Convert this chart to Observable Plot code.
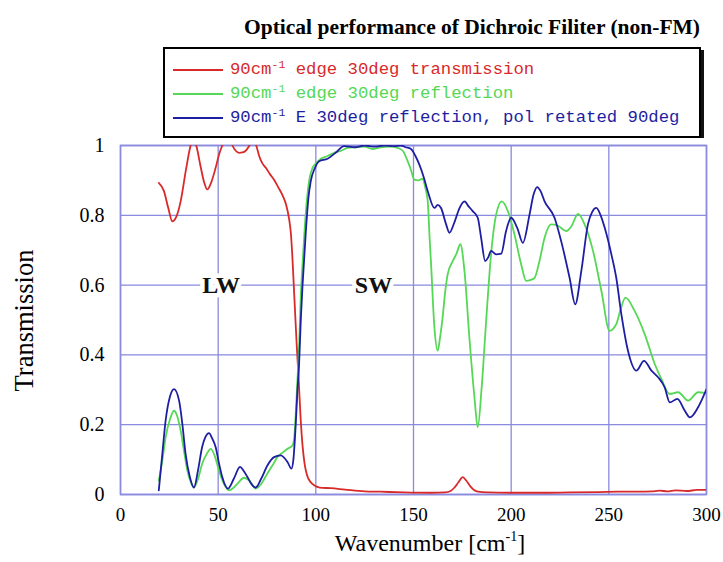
<!DOCTYPE html>
<html>
<head>
<meta charset="utf-8">
<script src="https://cdn.jsdelivr.net/npm/d3@7"></script>
<script src="https://cdn.jsdelivr.net/npm/@observablehq/plot@0.6"></script>
<style>
  html, body { margin: 0; padding: 0; background: #fff; }
  #wrap { position: relative; width: 723px; height: 562px; background: #fff; overflow: hidden; }
  #title { position: absolute; left: 172px; top: 15px; width: 600px; text-align: center;
    font-family: "Liberation Serif", serif; font-weight: bold; font-size: 21.5px; line-height: 24px; white-space: nowrap; }
  #legend { position: absolute; left: 163px; top: 47px; width: 534px; height: 78px; box-sizing: content-box;
    border: 2px solid #000; box-shadow: 3px 3px 0 #111; background: #fff; padding-top: 9px; }
  .row { position: relative; height: 24px; line-height: 24px; font-family: "Liberation Mono", monospace;
    font-size: 17.3px; white-space: nowrap; }
  .row .sw { position: absolute; left: 8px; top: 11px; width: 50px; height: 0; border-top: 2px solid; }
  .row .tx { position: absolute; left: 65px; top: 0; }
  .row sup { font-size: 11.5px; vertical-align: 0; position: relative; top: -6px; }
  #chart { position: absolute; left: 0; top: 138px; }
</style>
</head>
<body>
<div id="wrap">
  <div id="title"></div>
  <div id="legend"></div>
  <div id="chart"></div>
</div>
<script>
// ---------- data ----------
const titleText = "Optical performance of Dichroic Filiter (non-FM)";

const xTicks = [0, 50, 100, 150, 200, 250, 300];
const yTicks = [0, 0.2, 0.4, 0.6, 0.8, 1];
const yTickLabels = ["0", "0.2", "0.4", "0.6", "0.8", "1"];

const seriesPrefix = ["90cm", "90cm", "90cm"];
const seriesSup = ["-1", "-1", "-1"];
const seriesRest = [" edge 30deg transmission", " edge 30deg reflection", " E 30deg reflection, pol retated 90deg"];
const seriesColors = ["#d82a2a", "#55d855", "#1e1ea2"];

const regionLabels = ["LW", "SW"];
const regionX = [51.5, 129.5];
const regionY = [0.6, 0.6];

// red: 90cm-1 edge 30deg transmission
const transWn = [19.6, 22.2, 24.5, 26.5, 28.5, 30.8, 33.5, 35.9, 37.5, 38.8, 41, 42.8, 44.4, 46.5, 48.7, 50.5, 52.1, 54, 56, 57.3, 59, 60.7, 62.5, 64.1, 66, 68, 69.5, 71, 72.5, 74.4, 76.5, 78.6, 80.8, 82.9, 84.8, 86.3, 87.2, 88.0, 88.7, 89.4, 90.2, 91.2, 92.2, 93.2, 94.2, 95.5, 97.4, 99.5, 102, 107.7, 115, 125, 133, 145, 159, 166, 169, 171, 173, 175.2, 177, 179, 181, 183, 188, 200, 215, 230, 245, 255, 265, 272, 276, 280, 284, 290, 295, 300];
const transVal = [0.893, 0.87, 0.82, 0.783, 0.795, 0.84, 0.93, 1.0, 1.02, 1.0, 0.94, 0.895, 0.874, 0.895, 0.936, 0.975, 1.0, 1.02, 1.02, 1.0, 0.985, 0.979, 0.98, 0.985, 1.0, 1.02, 1.0, 0.97, 0.95, 0.936, 0.918, 0.902, 0.88, 0.858, 0.83, 0.79, 0.75, 0.68, 0.6, 0.52, 0.43, 0.33, 0.22, 0.14, 0.09, 0.055, 0.035, 0.025, 0.02, 0.018, 0.014, 0.009, 0.008, 0.006, 0.005, 0.006, 0.01, 0.02, 0.035, 0.05, 0.04, 0.024, 0.013, 0.008, 0.006, 0.005, 0.005, 0.006, 0.007, 0.008, 0.008, 0.009, 0.011, 0.009, 0.012, 0.01, 0.013, 0.013];

// green: 90cm-1 edge 30deg reflection
const reflWn = [19.6, 21.5, 23.1, 25.3, 27.4, 29, 30.8, 32.5, 34.2, 36, 37.6, 39.7, 41.8, 44, 46.2, 48.3, 50.4, 53, 55.6, 58, 60.5, 63.2, 66, 69.2, 72, 75.2, 78, 80.3, 83, 85.5, 88, 88.9, 89.7, 90.6, 91.4, 92.3, 93.2, 94.9, 96.6, 98.3, 100.3, 102.6, 106, 109.4, 113, 116.3, 120, 124.8, 129, 133.3, 138, 141.9, 144.5, 147, 148.7, 150.4, 152.5, 154.7, 156, 157.3, 158.2, 159, 160.7, 162.4, 163.6, 164.9, 166.2, 167.5, 170.1, 172, 174, 176.1, 178.6, 181.2, 182.9, 184.9, 187.2, 189.7, 192.3, 195.2, 198.3, 201.7, 205.1, 207.7, 210, 212, 214.5, 217.1, 220.5, 224, 228.2, 231, 234.2, 237.6, 241.9, 246.2, 250.4, 253.8, 256, 258.5, 263.2, 268.4, 273.5, 276.9, 281.2, 285.5, 290.6, 295.7, 300];
const reflVal = [0.04, 0.1, 0.164, 0.215, 0.24, 0.225, 0.183, 0.125, 0.069, 0.035, 0.02, 0.045, 0.088, 0.115, 0.131, 0.11, 0.069, 0.03, 0.012, 0.02, 0.035, 0.048, 0.04, 0.017, 0.03, 0.06, 0.085, 0.107, 0.12, 0.131, 0.14, 0.16, 0.23, 0.33, 0.42, 0.57, 0.66, 0.81, 0.9, 0.936, 0.95, 0.962, 0.97, 0.979, 0.985, 0.993, 0.995, 0.997, 0.99, 0.995, 0.997, 0.993, 0.985, 0.955, 0.93, 0.902, 0.9, 0.905, 0.88, 0.84, 0.74, 0.66, 0.479, 0.412, 0.45, 0.507, 0.58, 0.631, 0.669, 0.69, 0.717, 0.64, 0.45, 0.279, 0.193, 0.307, 0.498, 0.688, 0.802, 0.84, 0.812, 0.745, 0.66, 0.612, 0.615, 0.621, 0.669, 0.736, 0.774, 0.77, 0.755, 0.77, 0.804, 0.774, 0.698, 0.583, 0.469, 0.488, 0.53, 0.564, 0.526, 0.459, 0.374, 0.331, 0.288, 0.293, 0.269, 0.293, 0.29];

// blue: 90cm-1 E 30deg reflection, pol rotated 90deg
const polWn = [19.6, 21.3, 23.1, 25.3, 27.4, 30, 31.7, 33.3, 35.5, 37.6, 39.7, 41.8, 43.5, 45.3, 47, 48.7, 50.4, 52.1, 55, 58, 61.2, 63, 65, 67, 69.2, 72, 75.2, 78.6, 82, 85.5, 87.5, 88.5, 89.7, 90.6, 91.4, 92.3, 93.2, 94.9, 96.2, 97.4, 99.5, 101.7, 106, 110.3, 114.5, 120, 125, 130, 135, 140, 143.6, 146, 148.7, 151, 153, 155.2, 157.3, 160.7, 162.4, 164.1, 166.7, 168.4, 170.9, 173.5, 176.1, 178.3, 180.3, 182.9, 184.6, 186.7, 188.3, 189.7, 192.3, 194.9, 197.4, 200, 203.1, 206, 209.4, 211.5, 213.3, 215, 217.1, 222.2, 225.6, 229.9, 232.8, 235.9, 239.3, 241.5, 243.6, 245.8, 247.9, 251.3, 253.8, 256.4, 259.8, 264.1, 268, 271.8, 275.2, 278.6, 281.2, 285.1, 288.9, 291.5, 295.7, 300];
const polVal = [0.012, 0.11, 0.212, 0.28, 0.302, 0.269, 0.2, 0.117, 0.05, 0.02, 0.07, 0.136, 0.165, 0.176, 0.16, 0.136, 0.09, 0.05, 0.017, 0.045, 0.079, 0.068, 0.05, 0.03, 0.02, 0.045, 0.083, 0.107, 0.112, 0.093, 0.074, 0.1, 0.2, 0.3, 0.37, 0.5, 0.6, 0.755, 0.85, 0.898, 0.935, 0.955, 0.962, 0.98, 0.998, 0.995, 1.0, 0.997, 1.0, 0.998, 1.0, 0.995, 0.99, 0.97, 0.945, 0.91, 0.869, 0.821, 0.83, 0.821, 0.774, 0.75, 0.779, 0.82, 0.84, 0.825, 0.812, 0.793, 0.736, 0.669, 0.68, 0.698, 0.688, 0.69, 0.755, 0.793, 0.764, 0.721, 0.802, 0.86, 0.881, 0.87, 0.84, 0.793, 0.726, 0.621, 0.545, 0.64, 0.774, 0.81, 0.821, 0.8, 0.764, 0.688, 0.621, 0.517, 0.412, 0.355, 0.383, 0.355, 0.336, 0.307, 0.264, 0.274, 0.24, 0.221, 0.25, 0.302];

const gridColor = "#8a8ade";

// ---------- build ----------
const toRows = (xs, ys) => xs.map((x, i) => ({x, y: ys[i]}));
const transData = toRows(transWn, transVal);
const reflData = toRows(reflWn, reflVal);
const polData = toRows(polWn, polVal);
const regions = regionLabels.map((label, i) => ({label, x: regionX[i], y: regionY[i]}));

d3.select("#title").text(titleText);

const legend = d3.select("#legend");
seriesPrefix.forEach((p, i) => {
  const row = legend.append("div").attr("class", "row").style("color", seriesColors[i]);
  row.append("div").attr("class", "sw").style("border-top-color", seriesColors[i]);
  const tx = row.append("div").attr("class", "tx");
  tx.append("span").text(p);
  tx.append("sup").text(seriesSup[i]);
  tx.append("span").text(seriesRest[i].replace(/ /g, "\u00a0"));
});

const lineOpts = {x: "x", y: "y", strokeWidth: 1.8, curve: "monotone-x", clip: true};

const chart = Plot.plot({
  width: 723,
  height: 424,
  marginTop: 7,
  marginBottom: 68,
  marginLeft: 120,
  marginRight: 17,
  x: {domain: [0, 300]},
  y: {domain: [0, 1]},
  style: {fontFamily: "Liberation Serif", fontSize: "19px", color: "#000", background: "#fff", overflow: "visible"},
  marks: [
    Plot.gridX(xTicks, {stroke: gridColor, strokeOpacity: 1, strokeWidth: 1.3}),
    Plot.gridY(yTicks, {stroke: gridColor, strokeOpacity: 1, strokeWidth: 1.3}),
    Plot.frame({stroke: gridColor, strokeWidth: 1.6}),
    Plot.axisX(xTicks, {tickSize: 0, tickPadding: 13, label: null, fontSize: 19}),
    Plot.axisY(yTicks, {tickSize: 0, tickPadding: 16, label: null, fontSize: 20,
      tickFormat: d => yTickLabels[yTicks.indexOf(d)]}),
    Plot.text(regions, {x: "x", y: "y", text: "label", fontWeight: "bold", fontSize: 24,
      fontFamily: "Liberation Serif", fill: "#111", stroke: "#fff", strokeWidth: 9, paintOrder: "stroke"}),
    Plot.line(transData, {...lineOpts, stroke: seriesColors[0]}),
    Plot.line(reflData, {...lineOpts, stroke: seriesColors[1]}),
    Plot.line(polData, {...lineOpts, stroke: seriesColors[2]})
  ]
});

const svg = d3.select(chart);
// x axis label with superscript
const xl = svg.append("text")
  .attr("x", 430).attr("y", 413).attr("text-anchor", "middle")
  .attr("font-family", "Liberation Serif").attr("font-size", 24).attr("fill", "#000");
xl.append("tspan").text("Wavenumber [cm");
xl.append("tspan").attr("font-size", 14).attr("dy", -10).text("-1");
xl.append("tspan").attr("dy", 10).text("]");
// y axis label
svg.append("text")
  .attr("transform", "translate(33,182.5) rotate(-90)")
  .attr("text-anchor", "middle")
  .attr("font-family", "Liberation Serif").attr("font-size", 26.5).attr("fill", "#000")
  .text("Transmission");

document.getElementById("chart").appendChild(chart);
</script>
</body>
</html>
